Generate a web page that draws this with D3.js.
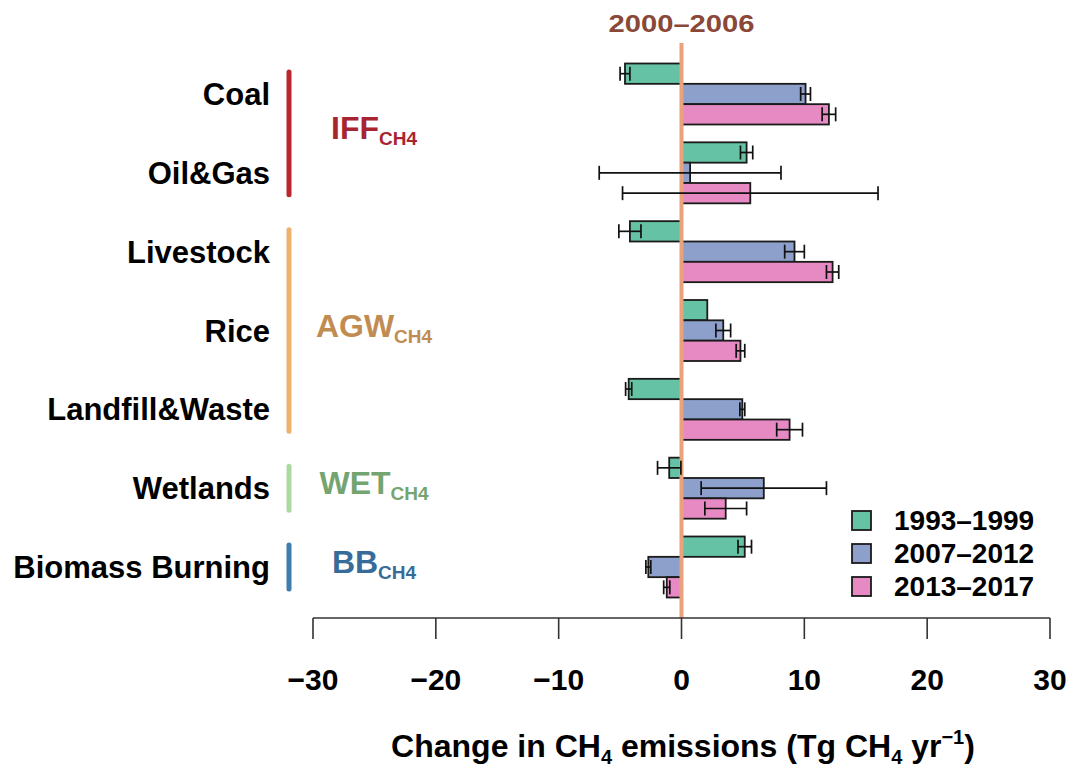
<!DOCTYPE html>
<html>
<head>
<meta charset="utf-8">
<script src="https://cdn.jsdelivr.net/npm/d3@7"></script>
<style>
  html, body { margin: 0; padding: 0; background: #ffffff; }
  svg { display: block; font-family: "Liberation Sans", Arial, Helvetica, sans-serif; }
</style>
</head>
<body>
<svg id="chart" width="1073" height="772"></svg>
<script>
// ---------------- data ----------------
const categories = ["Coal", "Oil&Gas", "Livestock", "Rice", "Landfill&Waste", "Wetlands", "Biomass Burning"];
const seriesNames = ["1993–1999", "2007–2012", "2013–2017"];
const values1993 = [-4.6, 5.3, -4.2, 2.1, -4.3, -1.0, 5.15];
const errors1993 = [0.4, 0.5, 0.9, 0, 0.25, 0.95, 0.55];
const values2007 = [10.1, 0.7, 9.2, 3.4, 4.95, 6.7, -2.7];
const errors2007 = [0.4, 7.4, 0.8, 0.6, 0.2, 5.1, 0.2];
const values2013 = [12.0, 5.6, 12.3, 4.8, 8.8, 3.6, -1.2];
const errors2013 = [0.55, 10.4, 0.5, 0.35, 1.05, 1.7, 0.25];
const xTicks = [-30, -20, -10, 0, 10, 20, 30];
const groupNames = ["IFF", "AGW", "WET", "BB"];
const groupFirst = ["Coal", "Livestock", "Wetlands", "Biomass Burning"];
const groupLast = ["Oil&Gas", "Landfill&Waste", "Wetlands", "Biomass Burning"];
const referenceLabel = "2000–2006";

// ---------------- styles ----------------
const seriesColors = ["#66C2A5", "#8DA0CB", "#E78AC3"];
const groupLineColors = ["#B8262E", "#EEB26E", "#ABD9A2", "#3D7EAE"];
const groupTextColors = ["#A82430", "#C18C52", "#74A470", "#386C98"];

const svg = d3.select("#chart");

const x = d3.scaleLinear().domain([-30, 30]).range([313, 1050]);
const y = d3.scalePoint().domain(categories).range([94, 567]);
const yIn = d3.scaleBand().domain(seriesNames).range([-30.5, 30.5]);
const color = d3.scaleOrdinal().domain(seriesNames).range(seriesColors);

const allVals = [values1993, values2007, values2013];
const allErrs = [errors1993, errors2007, errors2013];
const barData = [];
categories.forEach((c, i) => {
  seriesNames.forEach((s, j) => {
    barData.push({ cat: c, series: s, value: allVals[j][i], err: allErrs[j][i] });
  });
});

// bars
svg.append("g").selectAll("rect").data(barData).join("rect")
  .attr("x", d => x(Math.min(0, d.value)))
  .attr("width", d => Math.abs(x(d.value) - x(0)))
  .attr("y", d => y(d.cat) + yIn(d.series))
  .attr("height", yIn.bandwidth())
  .attr("fill", d => color(d.series))
  .attr("stroke", "#1a1a1a")
  .attr("stroke-width", 1.8);

// zero reference line
svg.append("line")
  .attr("x1", x(0)).attr("x2", x(0))
  .attr("y1", 43).attr("y2", 618)
  .attr("stroke", "#E9A27C").attr("stroke-width", 4);

svg.append("text")
  .attr("x", x(0)).attr("y", 32)
  .attr("text-anchor", "middle")
  .attr("font-size", 24).attr("font-weight", "bold")
  .attr("fill", "#8A4838")
  .attr("textLength", 146).attr("lengthAdjust", "spacingAndGlyphs")
  .text(referenceLabel);

// error bars
const eb = svg.append("g").attr("stroke", "#111").attr("stroke-width", 1.7).attr("fill", "none");
barData.filter(d => d.err > 0).forEach(d => {
  const cy = y(d.cat) + yIn(d.series) + yIn.bandwidth() / 2;
  const x0 = x(d.value - d.err), x1 = x(d.value + d.err);
  eb.append("line").attr("x1", x0).attr("x2", x1).attr("y1", cy).attr("y2", cy);
  eb.append("line").attr("x1", x0).attr("x2", x0).attr("y1", cy - 7).attr("y2", cy + 7);
  eb.append("line").attr("x1", x1).attr("x2", x1).attr("y1", cy - 7).attr("y2", cy + 7);
});

// category labels
svg.append("g").selectAll("text").data(categories).join("text")
  .attr("x", 270)
  .attr("y", d => y(d) + 11)
  .attr("text-anchor", "end")
  .attr("font-size", 31).attr("font-weight", "bold")
  .attr("fill", "#000")
  .text(d => d);

// group brackets and labels
groupNames.forEach((g, i) => {
  const y0 = y(groupFirst[i]) - 22, y1 = y(groupLast[i]) + 22;
  svg.append("line")
    .attr("x1", 289).attr("x2", 289).attr("y1", y0).attr("y2", y1)
    .attr("stroke", groupLineColors[i]).attr("stroke-width", 5)
    .attr("stroke-linecap", "round");
  const t = svg.append("text")
    .attr("x", 374).attr("y", (y0 + y1) / 2 + 6)
    .attr("text-anchor", "middle")
    .attr("font-weight", "bold")
    .attr("fill", groupTextColors[i]);
  t.append("tspan").attr("font-size", 32).text(g);
  t.append("tspan").attr("font-size", 19).attr("dy", 6).text("CH4");
});

// x axis
const axisY = 618;
const ax = svg.append("g").attr("stroke", "#333").attr("stroke-width", 1.6);
ax.append("line").attr("x1", x(-30)).attr("x2", x(30)).attr("y1", axisY).attr("y2", axisY);
xTicks.forEach(t => {
  ax.append("line").attr("x1", x(t)).attr("x2", x(t)).attr("y1", axisY).attr("y2", axisY + 21);
});
svg.append("g").selectAll("text").data(xTicks).join("text")
  .attr("x", d => x(d))
  .attr("y", 690)
  .attr("text-anchor", "middle")
  .attr("font-size", 30).attr("font-weight", "bold")
  .attr("fill", "#000")
  .text(d => d < 0 ? "−" + Math.abs(d) : String(d));

// axis title
const title = svg.append("text")
  .attr("x", 683).attr("y", 757)
  .attr("text-anchor", "middle")
  .attr("font-size", 32).attr("font-weight", "bold")
  .attr("fill", "#000");
title.append("tspan").text("Change in CH");
title.append("tspan").attr("font-size", 20).attr("dy", 7).text("4");
title.append("tspan").attr("dy", -7).text(" emissions (Tg CH");
title.append("tspan").attr("font-size", 20).attr("dy", 7).text("4");
title.append("tspan").attr("dy", -7).text(" yr");
title.append("tspan").attr("font-size", 20).attr("dy", -13).text("−1");
title.append("tspan").attr("dy", 13).text(")");

// legend
const lg = svg.append("g");
seriesNames.forEach((s, i) => {
  lg.append("rect")
    .attr("x", 852).attr("y", 511 + i * 33)
    .attr("width", 19).attr("height", 19)
    .attr("fill", color(s)).attr("stroke", "#1a1a1a").attr("stroke-width", 1.8);
  lg.append("text")
    .attr("x", 894).attr("y", 511 + i * 33 + 19)
    .attr("font-size", 28).attr("font-weight", "bold")
    .attr("fill", "#000")
    .text(s);
});
</script>
</body>
</html>
